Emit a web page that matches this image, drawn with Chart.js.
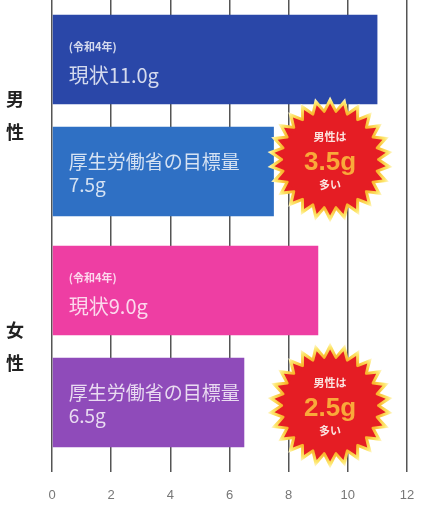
<!DOCTYPE html>
<html>
<head>
<meta charset="utf-8">
<script src="https://cdn.jsdelivr.net/npm/chart.js@4"></script>
<style>
  html, body { margin: 0; padding: 0; background: #fff; }
  #saltChart { display: block; }
</style>
</head>
<body>
<canvas id="saltChart" width="423" height="510"></canvas>
<script>
const groups = [['男', '性'], ['女', '性']];
const currentValues = [11.0, 9.0];
const targetValues = [7.5, 6.5];
const currentNote = '(令和4年)';
const currentLabel = '現状';
const targetLabel = '厚生労働省の目標量';
const xTicks = [0, 2, 4, 6, 8, 10, 12];

const JP = '"Noto Sans CJK JP", "Noto Sans", sans-serif';

function starPath(ctx, cx, cy, n, rOut, rIn) {
  ctx.beginPath();
  for (let i = 0; i < n * 2; i++) {
    const r = i % 2 === 0 ? rOut : rIn;
    const a = -Math.PI / 2 + i * Math.PI / n;
    const px = cx + Math.cos(a) * r, py = cy + Math.sin(a) * r;
    if (i === 0) ctx.moveTo(px, py); else ctx.lineTo(px, py);
  }
  ctx.closePath();
}

function drawBurst(ctx, cx, cy, diff) {
  ctx.save();
  const g = ctx.createRadialGradient(cx, cy, 38, cx, cy, 63);
  g.addColorStop(0, '#f2701e');
  g.addColorStop(0.4, '#f9b42a');
  g.addColorStop(0.8, '#fde66a');
  g.addColorStop(1, '#fff8d8');
  starPath(ctx, cx, cy, 26, 63, 51);
  ctx.fillStyle = g;
  ctx.fill();
  starPath(ctx, cx, cy, 26, 56, 46);
  ctx.fillStyle = '#e51d24';
  ctx.fill();
  ctx.beginPath();
  ctx.arc(cx, cy, 47, 0, Math.PI * 2);
  ctx.fill();

  ctx.textAlign = 'center';
  ctx.textBaseline = 'middle';
  ctx.fillStyle = '#fbe3df';
  ctx.font = 'bold 11px ' + JP;
  ctx.fillText('男性は', cx, cy - 23);
  ctx.fillText('多い', cx, cy + 25);
  ctx.fillStyle = '#f9a93a';
  ctx.font = 'bold 26px "Liberation Sans", Arial, sans-serif';
  ctx.fillText(diff.toFixed(1) + 'g', cx, cy + 3);
  ctx.restore();
}

const barText = {
  id: 'barText',
  afterDatasetsDraw(chart) {
    const ctx = chart.ctx;
    const x = chart.scales.x;
    ctx.save();
    ctx.textBaseline = 'middle';
    ctx.textAlign = 'left';
    ctx.fillStyle = 'rgba(255,255,255,0.8)';
    chart.getDatasetMeta(0).data.forEach((bar, i) => {
      const left = bar.base + 16;
      ctx.font = 'bold 11px ' + JP;
      ctx.fillText(currentNote, left, bar.y - 13);
      ctx.font = '20px ' + JP;
      ctx.fillText(currentLabel + currentValues[i].toFixed(1) + 'g', left, bar.y + 16);
    });
    chart.getDatasetMeta(1).data.forEach((bar, i) => {
      const left = bar.base + 16;
      ctx.font = '19px ' + JP;
      ctx.fillText(targetLabel, left, bar.y - 10);
      ctx.fillText(targetValues[i].toFixed(1) + 'g', left, bar.y + 13);
    });
    ctx.restore();

    chart.getDatasetMeta(1).data.forEach((bar, i) => {
      const diff = currentValues[i] - targetValues[i];
      drawBurst(ctx, x.getPixelForValue(9.4), bar.y - (i === 0 ? 12 : -3), diff);
    });
  }
};

new Chart(document.getElementById('saltChart').getContext('2d'), {
  type: 'bar',
  data: {
    labels: groups,
    datasets: [
      {
        label: currentLabel,
        data: currentValues,
        backgroundColor: ['#2a47a8', '#ee3ea3'],
        barPercentage: 0.8,
        categoryPercentage: 0.97
      },
      {
        label: targetLabel,
        data: targetValues,
        backgroundColor: ['#2f70c4', '#8f4bba'],
        barPercentage: 0.8,
        categoryPercentage: 0.97
      }
    ]
  },
  options: {
    indexAxis: 'y',
    responsive: false,
    animation: false,
    layout: { padding: { top: 0, left: 0, right: 16, bottom: 6 } },
    plugins: {
      legend: { display: false },
      tooltip: { enabled: false }
    },
    scales: {
      x: {
        min: 0,
        max: 12,
        afterBuildTicks: axis => { axis.ticks = xTicks.map(v => ({ value: v })); },
        afterFit: axis => {
          axis.height = 42;
          axis.paddingTop = 0;
          axis.paddingBottom = 0;
          axis.paddingLeft = 0;
          axis.paddingRight = 0;
        },
        grid: { color: '#555', lineWidth: 1.5, tickLength: 10, drawTicks: true },
        border: { display: false },
        ticks: {
          color: '#777',
          padding: 16,
          font: { family: '"Liberation Sans", Arial, sans-serif', size: 13 }
        }
      },
      y: {
        grid: { display: false },
        border: { display: false },
        afterFit: axis => {
          axis.width = 52;
          axis.paddingTop = 0;
          axis.paddingBottom = 0;
        },
        ticks: {
          color: '#222',
          padding: 20,
          font: { family: JP, size: 18, weight: 'bold', lineHeight: 1.85 }
        }
      }
    }
  },
  plugins: [barText]
});
</script>
</body>
</html>
